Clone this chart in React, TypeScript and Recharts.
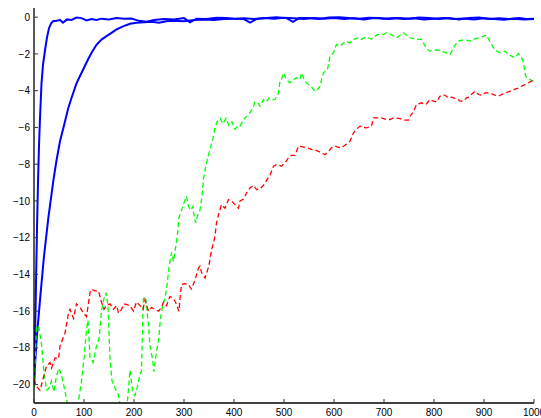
import React from "react";
import { LineChart, Line, XAxis, YAxis } from "recharts";

const xTicks = [0, 100, 200, 300, 400, 500, 600, 700, 800, 900, 1000];
const yTicks = [0, -2, -4, -6, -8, -10, -12, -14, -16, -18, -20];

const fastX = [0, 2, 4, 6, 8, 10, 12, 15, 18, 22, 26, 30, 34, 38, 45, 52, 58, 66, 75, 85, 95, 105, 115, 125, 135, 150, 165, 180, 195, 210, 225, 240, 260, 280, 300, 312, 325, 345, 365, 385, 400, 420, 432, 445, 465, 485, 505, 518, 530, 550, 570, 590, 610, 630, 650, 670, 690, 710, 730, 750, 770, 790, 810, 830, 850, 870, 890, 910, 930, 950, 970, 985, 1000];
const fastY = [-20, -17.5, -14.5, -11.5, -9, -7, -5.5, -3.6, -2.6, -1.8, -1.1, -0.6, -0.35, -0.22, -0.2, -0.15, -0.3, -0.12, -0.15, -0.02, -0.05, -0.18, -0.1, -0.15, -0.08, -0.12, -0.05, -0.08, -0.07, -0.2, -0.25, -0.15, -0.1, -0.12, -0.05, -0.28, -0.08, -0.1, -0.03, -0.05, -0.08, -0.1, -0.3, -0.1, -0.05, 0, -0.05, -0.25, -0.05, -0.05, -0.1, -0.02, 0, -0.05, -0.08, -0.03, -0.05, -0.1, -0.05, -0.08, -0.02, -0.05, -0.1, -0.05, -0.12, -0.05, -0.02, -0.1, -0.06, -0.1, -0.05, -0.1, -0.08];

const slowX = [0, 3, 6, 12, 20, 29, 39, 45, 52, 60, 68, 75, 85, 92, 100, 108, 116, 125, 135, 145, 155, 165, 178, 192, 205, 220, 235, 250, 265, 280, 300, 320, 340, 360, 380, 400, 420, 440, 460, 480, 500, 520, 540, 560, 580, 600, 620, 640, 660, 680, 700, 720, 740, 760, 780, 800, 820, 840, 860, 880, 900, 920, 940, 960, 980, 1000];
const slowY = [-20, -18.5, -17.3, -15.4, -13.0, -10.85, -8.84, -7.8, -6.75, -5.9, -5.0, -4.4, -3.6, -3.2, -2.75, -2.3, -1.9, -1.5, -1.22, -1.03, -0.85, -0.67, -0.5, -0.36, -0.3, -0.27, -0.25, -0.3, -0.22, -0.2, -0.22, -0.15, -0.12, -0.15, -0.1, -0.08, -0.06, -0.1, -0.05, -0.08, -0.03, -0.06, -0.1, -0.04, -0.08, -0.05, -0.1, -0.06, -0.12, -0.05, -0.08, -0.04, -0.1, -0.06, -0.12, -0.08, -0.05, -0.1, -0.07, -0.12, -0.06, -0.1, -0.14, -0.08, -0.12, -0.1];

const greenX = [0, 5, 10, 15, 20, 25, 30, 35, 40, 45, 50, 55, 60, 65, 70, 75, 80, 85, 90, 95, 100, 105, 108, 112, 118, 125, 130, 135, 140, 144, 148, 152, 156, 162, 168, 174, 180, 186, 192, 197, 202, 207, 212, 215, 217, 219, 224, 229, 232, 237, 240, 244, 249, 253, 258, 262, 266, 270, 275, 279, 284, 287, 290, 295, 300, 305, 309, 313, 318, 320, 323, 327, 332, 336, 339, 343, 347, 352, 358, 362, 366, 372, 378, 384, 390, 396, 402, 408, 412, 419, 425, 432, 439, 442, 449, 452, 459, 465, 470, 478, 482, 489, 492, 495, 499, 505, 512, 519, 525, 532, 535, 542, 549, 555, 562, 565, 572, 575, 579, 587, 592, 599, 602, 605, 612, 619, 625, 632, 639, 649, 655, 662, 669, 675, 682, 688, 699, 705, 715, 725, 739, 752, 765, 775, 785, 792, 805, 815, 825, 832, 842, 849, 855, 865, 872, 878, 885, 892, 898, 905, 912, 922, 932, 942, 948, 955, 962, 969, 975, 979, 982, 985, 992, 1000];
const greenY = [-20.2, -16.8, -16.9, -17.8, -19.3, -20.3, -20.2, -19.8, -20.4, -19.5, -19.1, -19.5, -20.1, -20.8, -21.4, -21.6, -21.3, -21.2, -20.7, -19.8, -18.6, -17.0, -16.5, -18.5, -18.8, -17.9, -17.5, -16.0, -15.3, -15.0, -15.7, -18.6, -19.8, -20.2, -20.5, -21.3, -21.5, -21.2, -19.2, -20.3, -20.6, -20.1, -19.4, -19.3, -17.0, -15.2, -15.4, -16.8, -17.9, -18.6, -19.3, -18.4, -17.6, -16.4, -15.6, -15.3, -14.6, -13.6, -12.8, -13.3, -12.4, -11.8, -10.9, -10.5, -10.1, -9.75, -10.3, -10.5, -10.3, -10.8, -11.2, -10.8, -10.5, -9.7, -8.8, -8.2, -7.7, -7.2, -6.6, -6.0, -5.7, -5.5, -5.8, -5.5, -5.9, -5.7, -6.1, -5.9, -5.93, -5.57, -5.4, -5.2, -4.85, -4.6, -4.7, -4.85, -4.48, -4.6, -4.4, -4.5, -4.48, -4.12, -3.48, -3.4, -3.03, -3.4, -3.57, -3.4, -3.3, -3.4, -3.03, -3.5, -3.67, -3.8, -4.03, -4.0, -3.76, -3.4, -3.03, -2.85, -2.12, -1.94, -1.67, -1.49, -1.58, -1.4, -1.31, -1.4, -1.21, -1.12, -1.21, -1.1, -1.12, -1.2, -1.03, -0.94, -0.94, -0.85, -0.95, -1.12, -0.85, -1.12, -1.21, -1.21, -1.7, -1.85, -1.78, -1.85, -1.94, -2.03, -1.52, -1.3, -1.25, -1.25, -1.3, -1.22, -1.15, -1.12, -1.05, -0.97, -1.35, -1.78, -1.94, -1.85, -2.03, -2.12, -2.2, -1.98, -2.2, -2.48, -3.05, -3.3, -3.4, -3.48];

const redX = [0, 5, 12, 19, 25, 32, 35, 42, 49, 52, 59, 62, 69, 72, 79, 85, 92, 99, 105, 112, 115, 122, 129, 135, 140, 145, 152, 159, 165, 169, 175, 180, 186, 192, 199, 205, 212, 218, 222, 229, 235, 242, 249, 255, 259, 265, 272, 278, 283, 287, 290, 292, 295, 302, 309, 312, 315, 322, 329, 332, 335, 342, 349, 352, 355, 359, 362, 365, 369, 375, 382, 389, 395, 402, 409, 412, 419, 425, 432, 439, 445, 452, 459, 465, 472, 479, 485, 495, 502, 509, 515, 522, 529, 535, 545, 555, 562, 569, 575, 582, 589, 595, 602, 609, 615, 625, 632, 639, 645, 652, 659, 665, 675, 679, 689, 695, 705, 712, 719, 732, 739, 749, 752, 759, 765, 775, 782, 785, 792, 799, 805, 812, 819, 825, 829, 835, 842, 849, 852, 859, 865, 869, 882, 889, 895, 902, 912, 919, 929, 935, 945, 955, 962, 969, 975, 982, 989, 995, 1000];
const redY = [-19.7, -20.1, -20.3, -19.6, -19.0, -18.8, -19.1, -18.55, -18.6, -17.9, -17.4, -17.2, -16.1, -15.9, -16.4, -15.6, -15.8, -16.1, -16.3, -15.0, -14.8, -14.9, -14.9, -15.5, -15.9, -15.7, -15.6, -15.9, -15.7, -16.1, -15.9, -15.6, -15.65, -15.7, -16.0, -15.5, -15.7, -15.9, -15.4, -16.0, -15.8, -15.9, -16.0, -15.8, -15.5, -15.7, -15.2, -15.3, -15.5, -15.8, -16.0, -15.3, -14.55, -14.5, -14.55, -14.7, -14.8, -14.3, -13.65, -13.55, -13.9, -14.2, -13.6, -13.2, -12.65, -12.3, -11.9, -11.2, -10.75, -10.2, -10.4, -9.93, -10.0, -10.2, -10.4, -10.0, -9.9, -9.57, -9.3, -9.15, -9.38, -9.35, -9.15, -8.9, -8.6, -8.11, -8.02, -8.11, -7.93, -7.66, -7.52, -7.52, -7.02, -7.05, -7.1, -7.2, -7.22, -7.3, -7.39, -7.48, -7.3, -7.11, -7.02, -7.08, -7.11, -6.9, -6.75, -6.3, -6.1, -5.93, -6.0, -6.02, -5.93, -5.48, -5.48, -5.48, -5.57, -5.57, -5.48, -5.52, -5.6, -5.6, -5.39, -5.15, -4.75, -4.66, -4.75, -4.72, -4.48, -4.57, -4.62, -4.3, -4.22, -4.3, -4.39, -4.35, -4.42, -4.5, -4.57, -4.57, -4.39, -4.35, -4.03, -4.21, -4.25, -4.12, -4.12, -4.21, -4.3, -4.21, -4.1, -4.0, -3.92, -3.85, -3.76, -3.67, -3.57, -3.48, -3.39];

const toData = (xs: number[], ys: number[]) => xs.map((x, i) => ({ x, y: ys[i] }));
const fastData = toData(fastX, fastY);
const slowData = toData(slowX, slowY);
const greenData = toData(greenX, greenY);
const redData = toData(redX, redY);

const FONT = "'Liberation Sans', Arial, Helvetica, sans-serif";
const fmt = (v: number) => (v < 0 ? "\u2212" + Math.abs(v) : String(v));
const TL = 4;
const tickStroke = "#333";

const BottomTick = (p: any) => (
  <g>
    <line x1={p.x} y1={p.y} x2={p.x} y2={p.y - TL} stroke={tickStroke} strokeWidth={1} />
    <text x={p.x} y={p.y + 13} textAnchor="middle" fontSize={10} fontFamily={FONT} fill="#000">
      {fmt(p.payload.value)}
    </text>
  </g>
);
const TopTick = (p: any) => (
  <line x1={p.x} y1={p.y} x2={p.x} y2={p.y + TL} stroke={tickStroke} strokeWidth={1} />
);
const LeftTick = (p: any) => (
  <g>
    <line x1={p.x} y1={p.y} x2={p.x + TL} y2={p.y} stroke={tickStroke} strokeWidth={1} />
    <text x={p.x - 4} y={p.y + 3.6} textAnchor="end" fontSize={10} fontFamily={FONT} fill="#000">
      {fmt(p.payload.value)}
    </text>
  </g>
);
const RightTick = (p: any) => (
  <line x1={p.x} y1={p.y} x2={p.x - TL} y2={p.y} stroke={tickStroke} strokeWidth={1} />
);

export default function App() {
  const axisLine = { stroke: "#000", strokeWidth: 1.3 };
  return (
    <div style={{ position: "fixed", left: 0, top: 0, width: 541, height: 418, overflow: "hidden", background: "#fff" }}>
      <LineChart width={541} height={418} margin={{ top: 8, right: 7, bottom: 0, left: 0 }} style={{ overflow: "visible" }}>
        <XAxis xAxisId="b" dataKey="x" type="number" domain={[0, 1000]} ticks={xTicks} interval={0}
          orientation="bottom" height={15} tickSize={0} tickMargin={0} tickLine={false}
          axisLine={axisLine} tick={BottomTick} allowDataOverflow />
        <XAxis xAxisId="t" dataKey="x" type="number" domain={[0, 1000]} ticks={xTicks} interval={0}
          orientation="top" height={0} tickSize={0} tickMargin={0} tickLine={false}
          axisLine={axisLine} tick={TopTick} allowDataOverflow />
        <YAxis yAxisId="l" type="number" domain={[-21, 0.5]} ticks={yTicks} interval={0}
          orientation="left" width={34} tickSize={0} tickMargin={0} tickLine={false}
          axisLine={axisLine} tick={LeftTick} allowDataOverflow />
        <YAxis yAxisId="r" type="number" domain={[-21, 0.5]} ticks={yTicks} interval={0}
          orientation="right" width={0} tickSize={0} tickMargin={0} tickLine={false}
          axisLine={axisLine} tick={RightTick} allowDataOverflow />
        <Line xAxisId="b" yAxisId="l" data={slowData} dataKey="y" stroke="#0000ff" strokeWidth={2}
          dot={false} isAnimationActive={false} type="linear" />
        <Line xAxisId="b" yAxisId="l" data={fastData} dataKey="y" stroke="#0000ff" strokeWidth={2}
          dot={false} isAnimationActive={false} type="linear" />
        <Line xAxisId="b" yAxisId="l" data={greenData} dataKey="y" stroke="#00ff00" strokeWidth={1.3}
          strokeDasharray="5 3" dot={false} isAnimationActive={false} type="linear" />
        <Line xAxisId="b" yAxisId="l" data={redData} dataKey="y" stroke="#ff0000" strokeWidth={1.3}
          strokeDasharray="5 3" dot={false} isAnimationActive={false} type="linear" />
      </LineChart>
    </div>
  );
}
